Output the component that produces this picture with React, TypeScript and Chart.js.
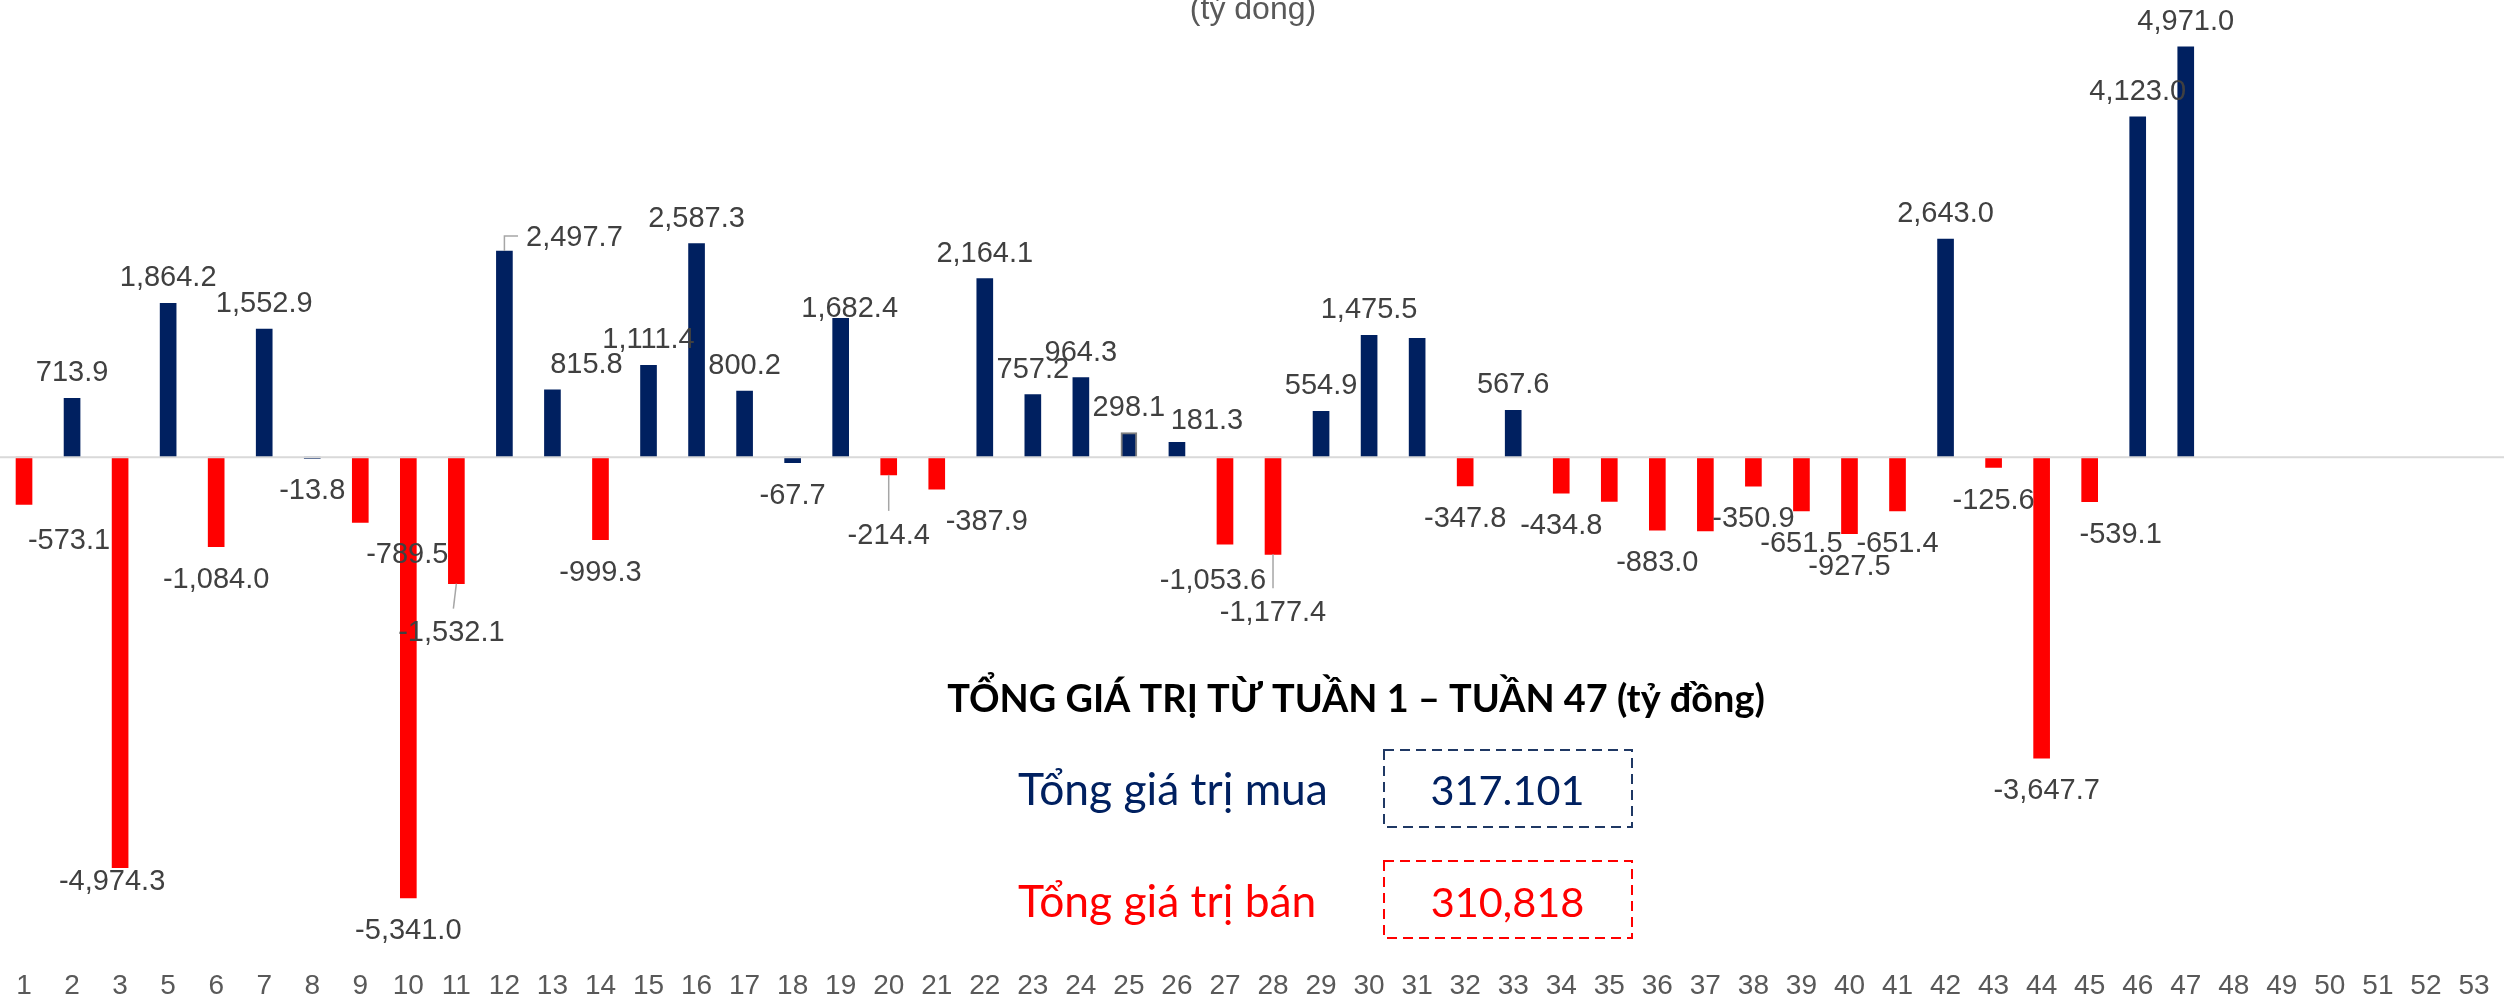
import React, { useEffect, useRef } from 'react';
import { Chart, registerables } from 'chart.js';

Chart.register(...registerables);

// ---- Data ----
const categories = [
  '1', '2', '3', '5', '6', '7', '8', '9', '10', '11', '12', '13', '14', '15', '16', '17', '18', '19', '20',
  '21', '22', '23', '24', '25', '26', '27', '28', '29', '30', '31', '32', '33', '34', '35', '36', '37', '38',
  '39', '40', '41', '42', '43', '44', '45', '46', '47', '48', '49', '50', '51', '52', '53',
];

const netValues: (number | null)[] = [
  -573.1, 713.9, -4974.3, 1864.2, -1084.0, 1552.9, -13.8, -789.5, -5341.0, -1532.1,
  2497.7, 815.8, -999.3, 1111.4, 2587.3, 800.2, -67.7, 1682.4, -214.4, -387.9,
  2164.1, 757.2, 964.3, 298.1, 181.3, -1053.6, -1177.4, 554.9, 1475.5, 1440.0,
  -347.8, 567.6, -434.8, -535.0, -883.0, -895.0, -350.9, -651.5, -927.5, -651.4,
  2643.0, -125.6, -3647.7, -539.1, 4123.0, 4971.0, null, null, null, null, null, null,
];

// weeks whose value label is not shown in the reference
const hiddenLabelWeeks = ['31', '35', '37'];
// small negative weeks drawn in navy in the reference
const navyNegativeWeeks = ['8', '18'];
// week whose bar has a grey outline in the reference
const outlinedWeeks = ['25'];

const unitLabel = '(tỷ đồng)';
const summaryTitle = 'TỔNG GIÁ TRỊ TỪ TUẦN 1 – TUẦN 47 (tỷ đồng)';
const summaryLabels = ['Tổng giá trị mua', 'Tổng giá trị bán'];
const summaryValues = ['317.101', '310,818'];

// ---- Styling ----
const NAVY = '#002060';
const RED = '#FF0000';
const LABEL_FONT = '29px "Liberation Sans", Arial, sans-serif';

// manual label nudges (dx, dy) as in the reference
const labelNudges: Record<string, [number, number]> = {
  '1': [45, 4], '3': [-8, -19], '9': [47, 0], '11': [-5, 16], '12': [70, 12], '13': [34, 0],
  '19': [9, 16], '20': [0, 28], '21': [50, 0], '26': [30, 4], '27': [-12, 4], '28': [0, 26],
  '44': [5, 0], '45': [31, 0],
};
const leaderWeeks = ['11', '12', '20', '28'];

const fmt = (v: number) =>
  v.toLocaleString('en-US', { minimumFractionDigits: 1, maximumFractionDigits: 1 });

const fitFont = (ctx: CanvasRenderingContext2D, text: string, weight: string, family: string, targetWidth: number) => {
  ctx.font = `${weight} 40px ${family}`;
  const w = ctx.measureText(text).width;
  const size = (40 * targetWidth) / w;
  return `${weight} ${size.toFixed(2)}px ${family}`;
};

const overlayPlugin = {
  id: 'overlay',
  afterDatasetsDraw(chart: any) {
    const ctx: CanvasRenderingContext2D = chart.ctx;
    const yScale = chart.scales.y;
    const zeroY = yScale.getPixelForValue(0);
    ctx.save();
    // zero line
    ctx.strokeStyle = '#D9D9D9';
    ctx.lineWidth = 2;
    ctx.beginPath();
    ctx.moveTo(0, zeroY);
    ctx.lineTo(chart.width, zeroY);
    ctx.stroke();

    // data labels
    const meta = chart.getDatasetMeta(0);
    ctx.font = LABEL_FONT;
    ctx.textAlign = 'center';
    ctx.textBaseline = 'alphabetic';
    meta.data.forEach((bar: any, i: number) => {
      const v = netValues[i];
      if (v === null || v === undefined) return;
      const wk = categories[i];
      if (hiddenLabelWeeks.includes(wk)) return;
      const txt = fmt(v);
      const [dx, dy] = labelNudges[wk] || [0, 0];
      const cx = bar.x + dx;
      const baseline = v >= 0 ? bar.y - 17 + dy : bar.y + 41 + dy;
      ctx.fillStyle = '#404040';
      ctx.fillText(txt, cx, baseline);
      if (leaderWeeks.includes(wk)) {
        const labelTop = baseline - 21;
        const labelMid = baseline - 10;
        const w = ctx.measureText(txt).width;
        ctx.strokeStyle = '#A6A6A6';
        ctx.lineWidth = 1.5;
        ctx.beginPath();
        if (v >= 0) {
          ctx.moveTo(bar.x, bar.y);
          ctx.lineTo(bar.x, labelMid);
          ctx.lineTo(cx - w / 2 - 8, labelMid);
        } else if (dx !== 0) {
          ctx.moveTo(bar.x, bar.y);
          ctx.lineTo(cx + 2, labelTop - 11);
        } else {
          ctx.moveTo(bar.x, bar.y);
          ctx.lineTo(bar.x, labelTop - 12);
        }
        ctx.stroke();
      }
    });
    ctx.restore();
  },
  afterDraw(chart: any) {
    const ctx: CanvasRenderingContext2D = chart.ctx;
    ctx.save();
    // unit label at the top (partly clipped)
    ctx.font = '32px "Liberation Sans", Arial, sans-serif';
    ctx.fillStyle = '#595959';
    ctx.textAlign = 'center';
    ctx.textBaseline = 'alphabetic';
    ctx.fillText(unitLabel, 1253, 19);

    const fam = 'Lato, "Open Sans", sans-serif';
    // summary title
    ctx.fillStyle = '#000000';
    ctx.font = fitFont(ctx, summaryTitle, 'bold', fam, 818);
    ctx.textAlign = 'center';
    ctx.fillText(summaryTitle, 1356, 712);

    const rowColors = [NAVY, RED];
    const boxColors = ['#1F3864', RED];
    const baselines = [805, 917];
    const boxTops = [750, 861];
    const labelFont = fitFont(ctx, summaryLabels[0], 'normal', fam, 310);
    const valueFont = fitFont(ctx, summaryValues[0], 'normal', fam, 154);
    summaryLabels.forEach((lab, i) => {
      ctx.fillStyle = rowColors[i];
      ctx.font = labelFont;
      ctx.textAlign = 'left';
      ctx.fillText(lab, 1018, baselines[i]);
      ctx.font = valueFont;
      ctx.textAlign = 'center';
      ctx.fillText(summaryValues[i], 1507.5, baselines[i]);
      ctx.strokeStyle = boxColors[i];
      ctx.lineWidth = 2;
      ctx.setLineDash([10, 6]);
      ctx.strokeRect(1384, boxTops[i], 248, 77);
      ctx.setLineDash([]);
    });
    ctx.restore();
  },
};

export default function App() {
  const canvasRef = useRef<HTMLCanvasElement | null>(null);

  useEffect(() => {
    if (!canvasRef.current) return;
    const colors = netValues.map((v, i) =>
      v !== null && v < 0 && !navyNegativeWeeks.includes(categories[i]) ? RED : NAVY
    );
    const borderColors = categories.map((c) => (outlinedWeeks.includes(c) ? '#7F7F7F' : 'rgba(0,0,0,0)'));
    const borderWidths = categories.map((c) => (outlinedWeeks.includes(c) ? 2 : 0));
    const chart = new Chart(canvasRef.current, {
      type: 'bar',
      data: {
        labels: categories,
        datasets: [
          {
            data: netValues as any,
            backgroundColor: colors,
            borderColor: borderColors,
            borderWidth: borderWidths,
            barThickness: 16,
          },
        ],
      },
      options: {
        responsive: false,
        animation: false,
        devicePixelRatio: 1,
        layout: { padding: { left: -2, right: 6, top: 0, bottom: -2 } },
        plugins: {
          legend: { display: false },
          tooltip: { enabled: false },
          title: { display: false },
        },
        scales: {
          x: {
            grid: { display: false, drawTicks: false },
            border: { display: false },
            ticks: {
              color: '#595959',
              font: { family: '"Liberation Sans", Arial, sans-serif', size: 28 },
              padding: 0,
              maxRotation: 0,
              minRotation: 0,
              autoSkip: false,
            },
          },
          y: { display: false, min: -6206, max: 5539 },
        },
      },
      plugins: [overlayPlugin],
    });
    return () => chart.destroy();
  }, []);

  return (
    <div style={{ position: 'absolute', left: 0, top: 0, width: 2504, height: 1001, background: '#fff' }}>
      <canvas ref={canvasRef} width={2504} height={1001} style={{ display: 'block' }} />
    </div>
  );
}
